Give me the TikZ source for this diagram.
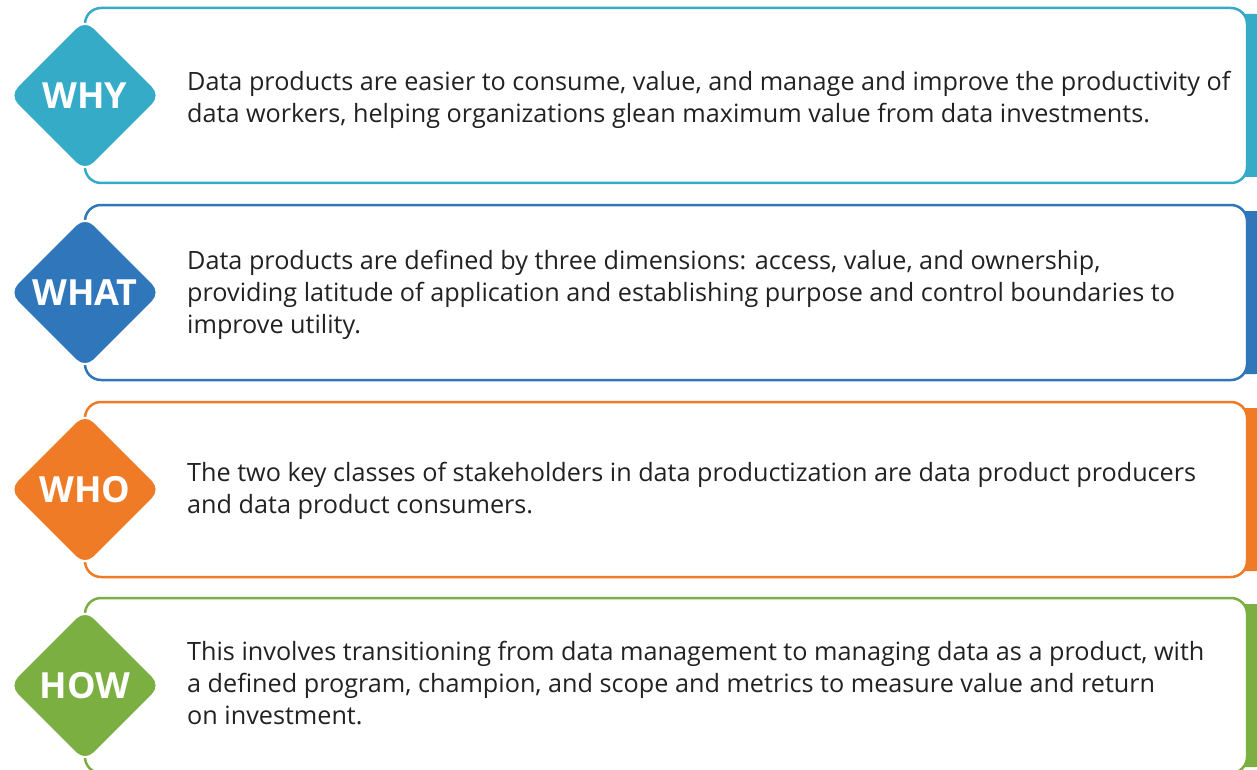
\documentclass[tikz,border=0pt]{standalone}
\usepackage{fontspec}
\setmainfont{Open Sans}
\definecolor{whyc}{HTML}{35ABC7}
\definecolor{whatc}{HTML}{2F76BA}
\definecolor{whoc}{HTML}{EF7B27}
\definecolor{howc}{HTML}{7BAF42}
\definecolor{bodyc}{HTML}{222222}

% one row: #1 top edge, #2 colour, #3 tag word, #4 body text, #5 name prefix, #6 text nudge
\newcommand\panelrow[6]{%
  \pgfmathsetmacro\ptop{#1}%
  \pgfmathsetmacro\pbot{#1+175}%
  \pgfmathsetmacro\pmid{#1+87.5}%
  \fill[#2, rounded corners=14pt] (1100,\ptop+6) rectangle (1270,\pbot-6);
  \draw[panel=#2] (85,\ptop) rectangle (1247,\pbot);
  \path[badge=#2] (8,\pmid) -- (85,\pmid-77) -- (162,\pmid) -- (85,\pmid+77) -- cycle;
  \node[tag] (#5-tag) at (85,\pmid) {#3};
  \node[body] (#5-text) at (187,\pmid+#6) {#4};
}

\begin{document}
\begin{tikzpicture}[x=1pt, y=-1pt,
  panel/.style={draw=#1, line width=2.5pt, fill=white, rounded corners=16pt},
  badge/.style={fill=#1, draw=white, line width=2pt, rounded corners=13pt},
  tag/.style={text=white, inner sep=0pt, font=\fontsize{36}{36}\selectfont\bfseries},
  body/.style={anchor=west, align=left, inner sep=0pt, text=bodyc,
    font=\fontsize{25.2}{32}\selectfont}]
\useasboundingbox (0,0) rectangle (1257,770);
\clip (0,0) rectangle (1257,770);
\fill[white] (0,0) rectangle (1257,770);

\panelrow{8}{whyc}{WHY}{Data products are easier to consume, value, and manage and improve the productivity of\\
data workers, helping organizations glean maximum value from data investments.}{why}{4}

\panelrow{205}{whatc}{WHAT}{Data products are defined by three dimensions: access, value, and ownership,\\
providing latitude of application and establishing purpose and control boundaries to\\
improve utility.}{what}{2}

\panelrow{402}{whoc}{WHO}{The two key classes of stakeholders in data productization are data product producers\\
and data product consumers.}{who}{1}

\panelrow{598}{howc}{HOW}{This involves transitioning from data management to managing data as a product, with\\
a defined program, champion, and scope and metrics to measure value and return\\
on investment.}{how}{-2}
\end{tikzpicture}
\end{document}
